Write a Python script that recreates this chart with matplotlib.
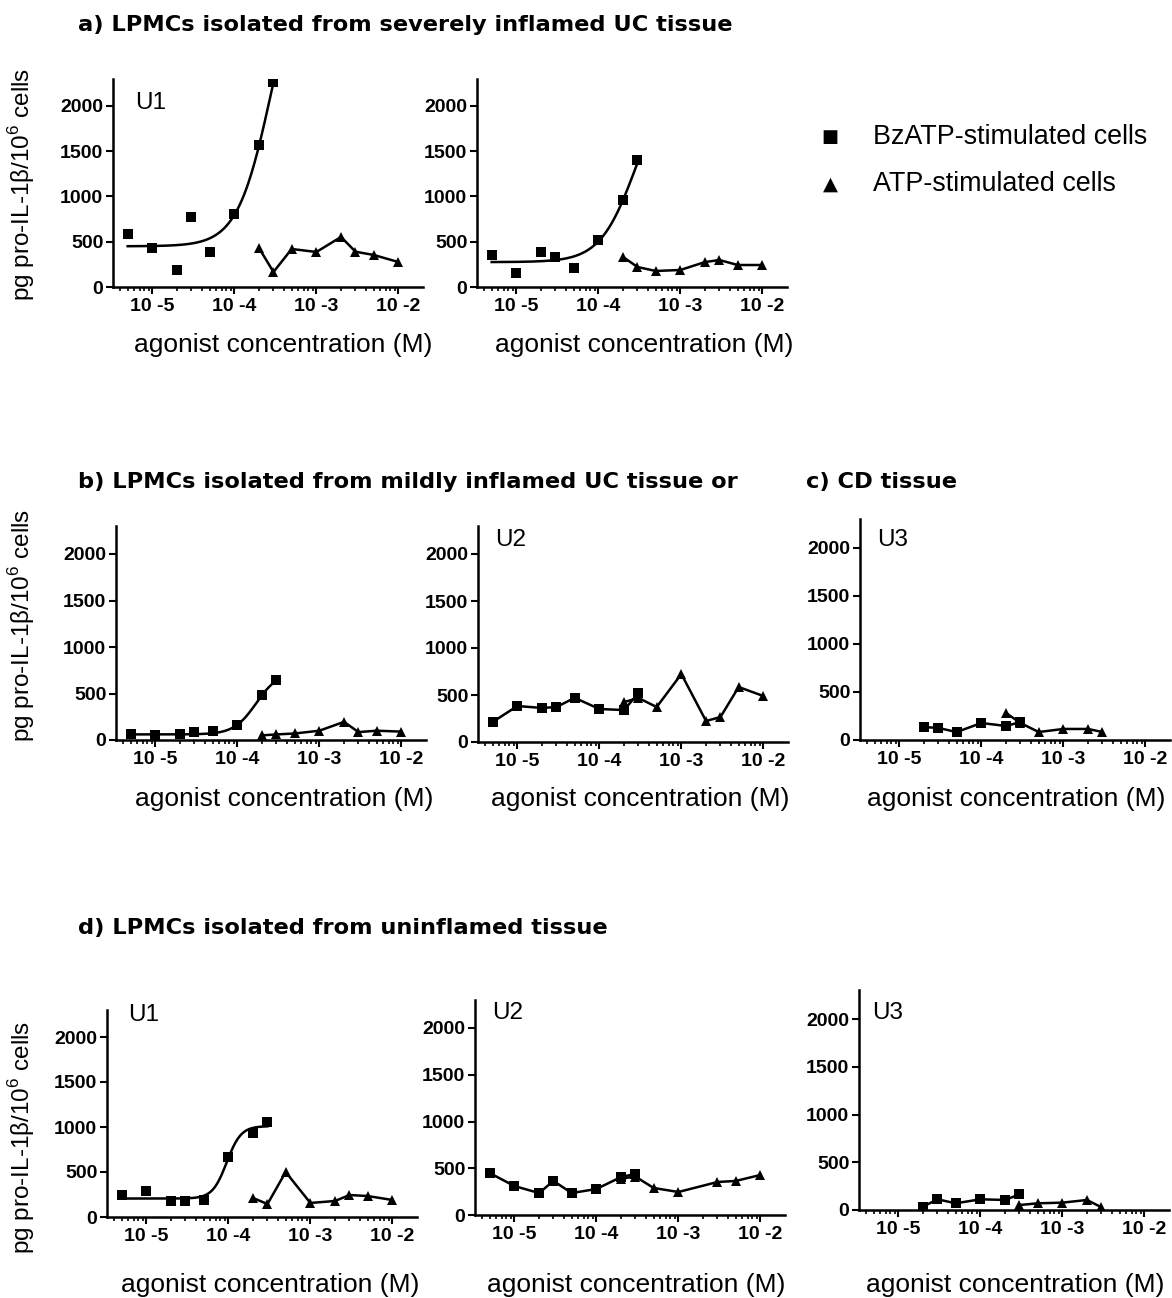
import numpy as np
import matplotlib
matplotlib.use('Agg')
import matplotlib.pyplot as plt
from matplotlib.ticker import LogLocator, NullFormatter

plt.rcParams['font.family'] = ['Liberation Sans', 'DejaVu Sans']
plt.rcParams['mathtext.fontset'] = 'custom'
plt.rcParams['mathtext.rm'] = 'Liberation Sans'

W, H = 1172, 1298

# agonist concentrations (M)
bz_conc = [5e-6, 1e-5, 2e-5, 3e-5, 5e-5, 1e-4, 2e-4, 3e-4]
atp_conc = [2e-4, 3e-4, 5e-4, 1e-3, 2e-3, 3e-3, 5e-3, 1e-2]

# a) severely inflamed UC
a1_bz = [590, 430, 188, 773, 387, 806, 1569, 2265]
a1_atp = [430, 166, 420, 387, 553, 390, 354, 276]
a2_bz = [354, 155, 387, 332, 210, 520, 961, 1403]
a2_atp = [332, 221, 177, 188, 276, 298, 243, 243]

# b) mildly inflamed UC
b1_bz = [65, 54, 65, 86, 97, 161, 484, 645]
b1_atp = [50, 60, 70, 100, 195, 85, 100, 90]
b2_bz = [213, 383, 362, 372, 470, 351, 340, 521]
b2_atp = [425, 468, 372, 723, 223, 266, 585, 489]

# c) CD tissue
c_bz_conc = [2e-5, 3e-5, 5e-5, 1e-4, 2e-4, 3e-4]
c_bz = [135, 125, 83, 177, 146, 187]
c_atp_conc = [2e-4, 3e-4, 5e-4, 1e-3, 2e-3, 3e-3]
c_atp = [281, 177, 83, 115, 115, 83]

# d) uninflamed tissue
d1_bz = [244, 289, 178, 178, 189, 667, 933, 1056]
d1_atp = [211, 144, 500, 156, 178, 244, 233, 189]
d2_bz = [449, 310, 235, 364, 235, 278, 406, 440]
d2_atp_conc = [2e-4, 3e-4, 5e-4, 1e-3, 3e-3, 5e-3, 1e-2]
d2_atp = [390, 410, 289, 246, 353, 364, 428]
d3_bz_conc = [2e-5, 3e-5, 5e-5, 1e-4, 2e-4, 3e-4]
d3_bz = [35, 112, 70, 112, 105, 164]
d3_atp_conc = [3e-4, 5e-4, 1e-3, 2e-3, 3e-3]
d3_atp = [52, 70, 77, 105, 28]

# sigmoidal fits of BzATP curves: bottom, top, logEC50, hill slope
fit_a1 = [450, 3850, -3.55, 2.1]
fit_a2 = [275, 2360, -3.545, 2.0]
fit_b1 = [60, 732, -3.77, 3.2]
fit_d1 = [205, 1010, -4.02, 5.0]

xtick_vals = [1e-5, 1e-4, 1e-3, 1e-2]
xtick_labels = ['10 -5', '10 -4', '10 -3', '10 -2']
ytick_vals = [0, 500, 1000, 1500, 2000]

fig = plt.figure(figsize=(W / 100, H / 100), dpi=100)


def make_ax(left, bottom, scale):
    # scale = px per unit on y; x spans 10^-5.48 .. 10^-1.7 at ~82 px/decade
    width = 3.78 * 82
    height = 2300 * scale
    ax = fig.add_axes([left / W, 1 - bottom / H, width / W, height / H])
    ax.set_xscale('log')
    ax.set_xlim(10 ** -5.48, 10 ** -1.7)
    ax.set_ylim(0, 2300)
    for s in ['top', 'right']:
        ax.spines[s].set_visible(False)
    for s in ['left', 'bottom']:
        ax.spines[s].set_linewidth(1.8)
    ax.set_xticks(xtick_vals)
    ax.set_xticklabels(xtick_labels, fontsize=14, fontweight='bold')
    ax.xaxis.set_minor_locator(LogLocator(base=10, subs=np.arange(2, 10)))
    ax.xaxis.set_minor_formatter(NullFormatter())
    ax.set_yticks(ytick_vals)
    ax.set_yticklabels([str(v) for v in ytick_vals], fontsize=14, fontweight='bold')
    ax.tick_params(axis='both', which='major', direction='out', length=5, width=1.5, pad=2)
    ax.tick_params(axis='x', which='minor', direction='out', length=3, width=1.2)
    ax.tick_params(axis='x', which='major', pad=3)
    return ax


def sigmoid_curve(ax, params, x0, x1):
    bottom, top, ec50, hill = params
    xs = np.logspace(np.log10(x0), np.log10(x1), 200)
    ys = bottom + (top - bottom) / (1 + 10 ** ((ec50 - np.log10(xs)) * hill))
    ax.plot(xs, ys, color='black', lw=1.8)


def pts(ax, x, y, marker, line=True):
    ax.plot(x, y, color='black', lw=1.8 if line else 0, marker=marker,
            markersize=7.5, markeredgewidth=0, linestyle='-' if line else 'none')


def xlab(ax, cx, cy):
    fig.text(cx / W, 1 - cy / H, 'agonist concentration (M)', fontsize=19,
             ha='center', va='center')


def ylab(cy):
    fig.text(22 / W, 1 - cy / H, 'pg pro-IL-1β/10$^{6}$ cells', fontsize=17.5,
             rotation=90, ha='center', va='center')


def tag(ax, text, x, y):
    fig.text(x / W, 1 - y / H, text, fontsize=17.5, ha='left', va='center')


def title(text, x, y):
    fig.text(x / W, 1 - y / H, text, fontsize=16.2, fontweight='bold',
             family='DejaVu Sans', ha='left', va='center')


# ---- row a ----
title('a) LPMCs isolated from severely inflamed UC tissue', 78, 25)
ax = make_ax(113, 287, 0.0905)
pts(ax, bz_conc, a1_bz, 's', line=False)
sigmoid_curve(ax, fit_a1, bz_conc[0], bz_conc[-1])
pts(ax, atp_conc, a1_atp, '^')
tag(ax, 'U1', 135, 103)
xlab(ax, 283, 345)
ylab(184)

ax = make_ax(477, 287, 0.0905)
pts(ax, bz_conc, a2_bz, 's', line=False)
sigmoid_curve(ax, fit_a2, bz_conc[0], bz_conc[-1])
pts(ax, atp_conc, a2_atp, '^')
xlab(ax, 644, 345)

# legend
fig.text(830 / W, 1 - 137 / H, '■', fontsize=13, ha='center', va='center',
         family='DejaVu Sans')
fig.text(830 / W, 1 - 184 / H, '▲', fontsize=14, ha='center', va='center',
         family='DejaVu Sans')
fig.text(873 / W, 1 - 137 / H, 'BzATP-stimulated cells', fontsize=19.4, ha='left', va='center')
fig.text(873 / W, 1 - 184 / H, 'ATP-stimulated cells', fontsize=19.4, ha='left', va='center')

# ---- row b / c ----
title('b) LPMCs isolated from mildly inflamed UC tissue or', 78, 482)
title('c) CD tissue', 806, 482)
ax = make_ax(116, 740, 0.093)
pts(ax, bz_conc, b1_bz, 's', line=False)
sigmoid_curve(ax, fit_b1, bz_conc[0], bz_conc[-1])
pts(ax, atp_conc, b1_atp, '^')
xlab(ax, 284, 799)
ylab(625)

ax = make_ax(478, 742, 0.094)
pts(ax, bz_conc, b2_bz, 's')
pts(ax, atp_conc, b2_atp, '^')
tag(ax, 'U2', 495, 540)
xlab(ax, 640, 799)

ax = make_ax(860, 740, 0.096)
pts(ax, c_bz_conc, c_bz, 's')
pts(ax, c_atp_conc, c_atp, '^')
tag(ax, 'U3', 877, 540)
xlab(ax, 1016, 799)

# ---- row d ----
title('d) LPMCs isolated from uninflamed tissue', 78, 928)
ax = make_ax(107, 1217, 0.09)
pts(ax, bz_conc, d1_bz, 's', line=False)
sigmoid_curve(ax, fit_d1, bz_conc[0], bz_conc[-1])
pts(ax, atp_conc, d1_atp, '^')
tag(ax, 'U1', 128, 1015)
xlab(ax, 270, 1285)
ylab(1137)

ax = make_ax(475, 1215, 0.0935)
pts(ax, bz_conc, d2_bz, 's')
pts(ax, d2_atp_conc, d2_atp, '^')
tag(ax, 'U2', 492, 1013)
xlab(ax, 636, 1285)

ax = make_ax(859, 1210, 0.0955)
pts(ax, d3_bz_conc, d3_bz, 's')
pts(ax, d3_atp_conc, d3_atp, '^')
tag(ax, 'U3', 872, 1013)
xlab(ax, 1015, 1285)

fig.savefig('out.png', dpi=100, facecolor='white')
